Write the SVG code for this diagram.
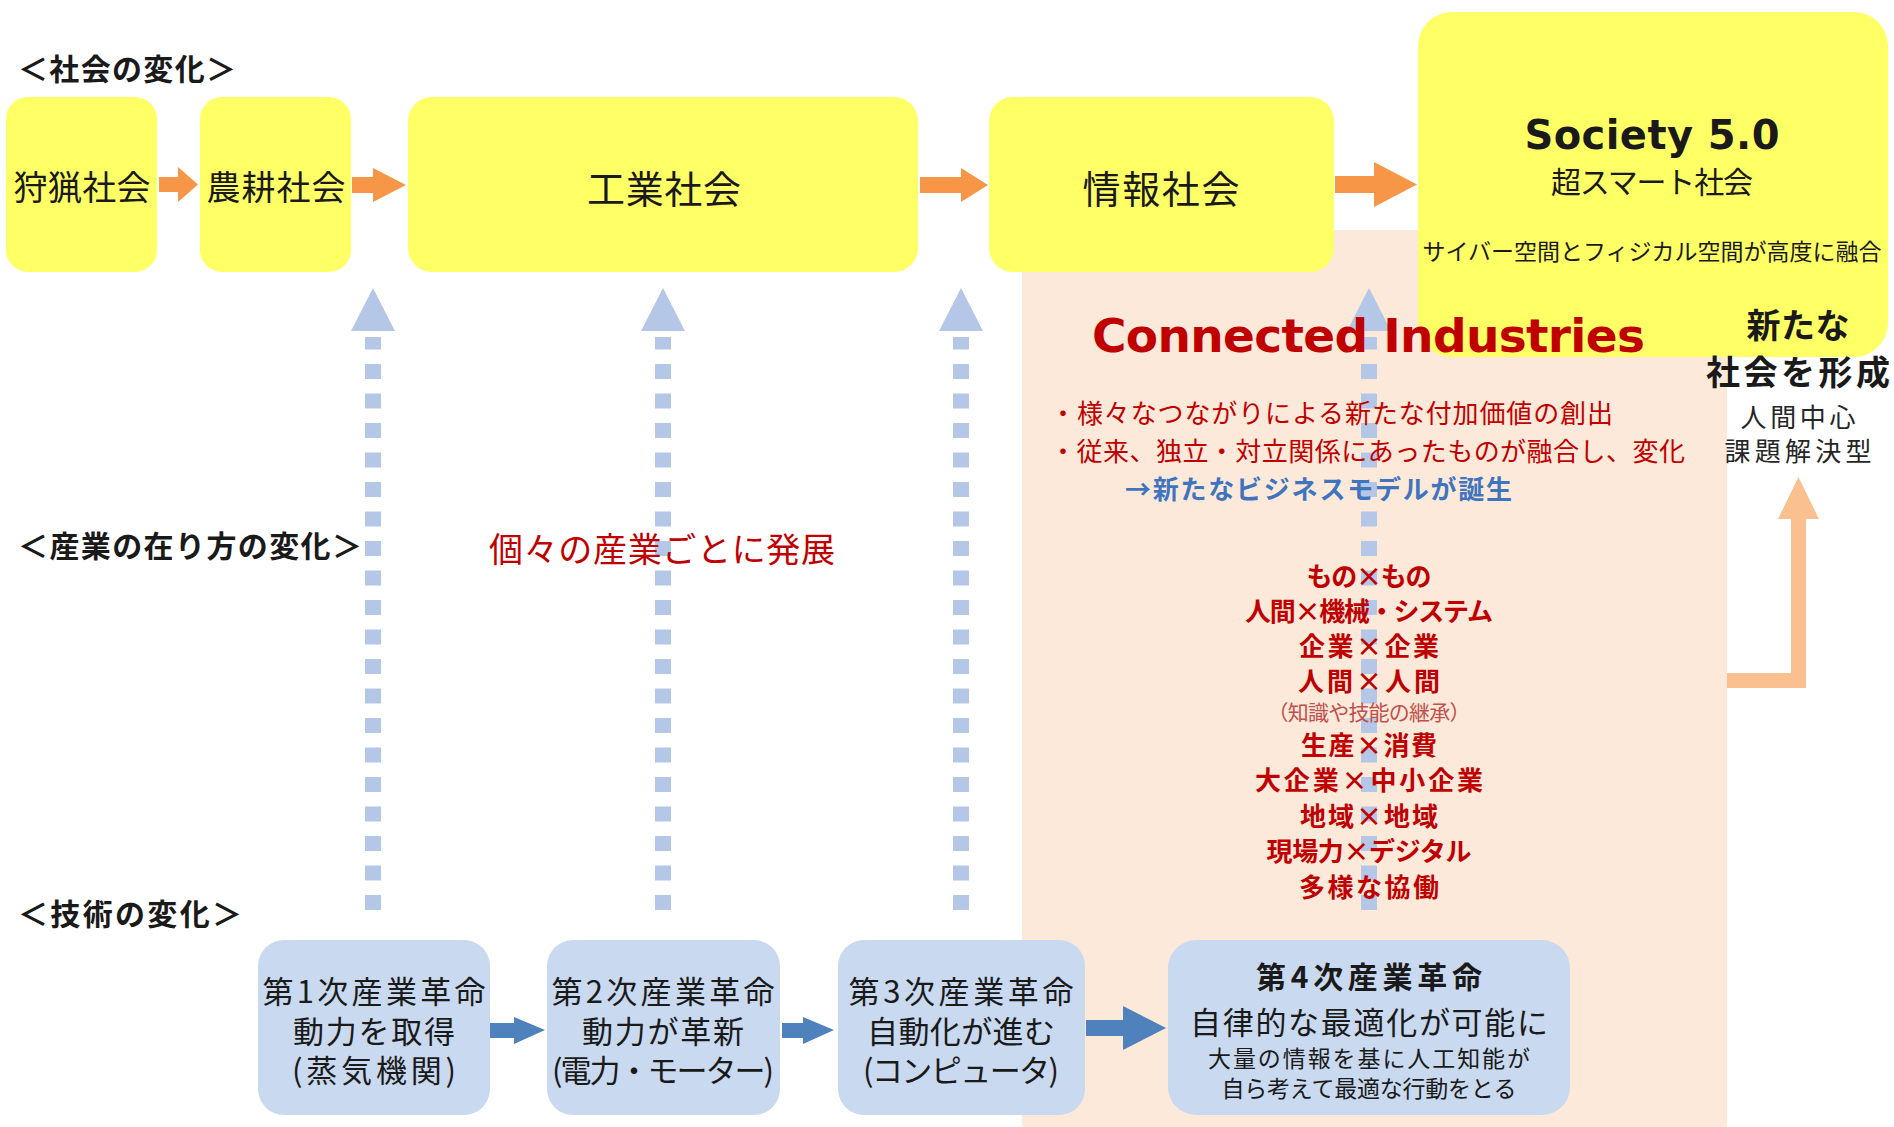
<svg xmlns="http://www.w3.org/2000/svg" width="1894" height="1127" viewBox="0 0 1894 1127">
<defs>
<style>
.jp{font-family:"Noto Sans CJK JP","Noto Sans",sans-serif;dominant-baseline:central}
.lat{font-family:"DejaVu Sans","Noto Sans",sans-serif;font-weight:bold}
.b{font-weight:bold}
.mid{text-anchor:middle}
.yel{fill:#FFFF66}
.peach{fill:#FDE9D9}
.tbox{fill:#C9D9EF}
.oarr{fill:#F79646}
.barr{fill:#4F81BD}
.dash{stroke:#B4C7E7;stroke-width:16;stroke-dasharray:15 14.5;fill:none}
.dhead{fill:#B4C7E7}
.red{fill:#C00000}
.blk{fill:#1A1A1A}
</style>
</defs>
<rect width="1894" height="1127" fill="#FFFFFF"/>

<g id="connected-industries-area">
<rect class="peach" x="1022" y="230" width="705" height="910" rx="18"/>
</g>

<g id="section-labels">
<text class="jp b blk" x="18" y="67" font-size="30" textLength="218">＜社会の変化＞</text>
<text class="jp b blk" x="18" y="544" font-size="30" textLength="344">＜産業の在り方の変化＞</text>
<text class="jp b blk" x="18" y="912" font-size="30" textLength="224">＜技術の変化＞</text>
</g>

<g id="connectors">
<line class="dash" x1="373" y1="910" x2="373" y2="337"/>
<polygon class="dhead" points="373,288 395,331 351,331"/>
<line class="dash" x1="663" y1="910" x2="663" y2="337"/>
<polygon class="dhead" points="663,288 685,331 641,331"/>
<line class="dash" x1="961" y1="910" x2="961" y2="337"/>
<polygon class="dhead" points="961,288 983,331 939,331"/>
<line class="dash" x1="1369" y1="910" x2="1369" y2="337"/>
<polygon class="dhead" points="1369,288 1391,331 1347,331"/>
<polygon class="oarr" points="159,177 178,177 178,167 198,184.5 178,202 178,192 159,192"/>
<polygon class="oarr" points="352,177 373,177 373,168 406,185 373,202 373,193 352,193"/>
<polygon class="oarr" points="920,177 961,177 961,168 988,185 961,202 961,193 920,193"/>
<polygon class="oarr" points="1335,176 1374,176 1374,162 1417,184.5 1374,207 1374,193 1335,193"/>
<polygon class="barr" points="490,1023 514,1023 514,1017 545,1030 514,1044 514,1038 490,1038"/>
<polygon class="barr" points="782,1023 803,1023 803,1017 834,1030 803,1044 803,1038 782,1038"/>
<polygon class="barr" points="1086,1020 1123,1020 1123,1006 1166,1028 1123,1050 1123,1036 1086,1036"/>
<polygon fill="#FAC08F" points="1727,673 1791,673 1791,519 1778,519 1798.5,477 1819,519 1806,519 1806,688 1727,688"/>
</g>

<g id="node-hunting">
<rect class="yel" x="6" y="97" width="151" height="175" rx="22"/>
<text class="jp mid blk" x="82" y="185" font-size="34" textLength="137">狩猟社会</text>
</g>
<g id="node-agrarian">
<rect class="yel" x="200" y="97" width="151" height="175" rx="22"/>
<text class="jp mid blk" x="276" y="185" font-size="34" textLength="139">農耕社会</text>
</g>
<g id="node-industrial">
<rect class="yel" x="408" y="97" width="510" height="175" rx="24"/>
<text class="jp mid blk" x="664" y="186" font-size="38" textLength="154">工業社会</text>
</g>
<g id="node-information">
<rect class="yel" x="989" y="97" width="345" height="175" rx="24"/>
<text class="jp mid blk" x="1161" y="186" font-size="38" textLength="157">情報社会</text>
</g>
<g id="node-society50">
<rect class="yel" x="1418" y="12" width="470" height="345" rx="34"/>
<text class="lat mid blk" x="1652" y="149" font-size="40" textLength="255">Society 5.0</text>
<text class="jp mid blk" x="1652" y="180" font-size="30" textLength="202">超スマート社会</text>
<text class="jp mid blk" x="1652" y="250" font-size="23" textLength="459">サイバー空間とフィジカル空間が高度に融合</text>
</g>

<g id="label-individual">
<text class="jp mid red" x="662" y="547" font-size="34" textLength="346">個々の産業ごとに発展</text>
</g>

<g id="node-connected-industries">
<text class="lat red" x="1092" y="352" font-size="47" textLength="553">Connected Industries</text>
<text class="jp red" x="1050" y="411" font-size="26" textLength="563">・様々なつながりによる新たな付加価値の創出</text>
<text class="jp red" x="1050" y="449" font-size="26" textLength="635">・従来、独立・対立関係にあったものが融合し、変化</text>
<text class="jp b" x="1125" y="487" font-size="26" textLength="387" fill="#3F74BE">→新たなビジネスモデルが誕生</text>
<g class="jp b red mid" font-size="26">
<text x="1369" y="574" textLength="125">もの×もの</text>
<text x="1369" y="609" textLength="248">人間×機械・システム</text>
<text x="1369" y="644" textLength="140">企業×企業</text>
<text x="1369" y="679" textLength="142">人間×人間</text>
<text x="1369" y="743" textLength="136">生産×消費</text>
<text x="1369" y="778" textLength="228">大企業×中小企業</text>
<text x="1369" y="814" textLength="138">地域×地域</text>
<text x="1369" y="849" textLength="205">現場力×デジタル</text>
<text x="1369" y="885" textLength="140">多様な協働</text>
</g>
<text class="jp mid" x="1369" y="711" font-size="21" textLength="203" fill="#C0504D">（知識や技能の継承）</text>
</g>

<g id="label-new-society">
<text class="jp mid b blk" x="1798" y="323" font-size="34" textLength="103">新たな</text>
<text class="jp mid b blk" x="1798" y="370" font-size="34" textLength="184">社会を形成</text>
<text class="jp mid" x="1798" y="415" font-size="26" textLength="115" fill="#262626">人間中心</text>
<text class="jp mid" x="1798" y="449" font-size="26" textLength="147" fill="#262626">課題解決型</text>
</g>

<g id="node-ir1">
<rect class="tbox" x="258" y="940" width="232" height="175" rx="26"/>
<text class="jp mid blk" x="374" y="989" font-size="31" textLength="223">第1次産業革命</text>
<text class="jp mid blk" x="374" y="1029" font-size="31" textLength="162">動力を取得</text>
<text class="jp mid blk" x="374" y="1068" font-size="31" textLength="164">(蒸気機関)</text>
</g>
<g id="node-ir2">
<rect class="tbox" x="547" y="940" width="233" height="175" rx="26"/>
<text class="jp mid blk" x="663" y="989" font-size="31" textLength="223">第2次産業革命</text>
<text class="jp mid blk" x="663" y="1029" font-size="31" textLength="162">動力が革新</text>
<text class="jp mid blk" x="663" y="1068" font-size="31" textLength="222">(電力・モーター)</text>
</g>
<g id="node-ir3">
<rect class="tbox" x="838" y="940" width="247" height="175" rx="26"/>
<text class="jp mid blk" x="961" y="989" font-size="31" textLength="225">第3次産業革命</text>
<text class="jp mid blk" x="961" y="1029" font-size="31" textLength="188">自動化が進む</text>
<text class="jp mid blk" x="961" y="1068" font-size="31" textLength="196">(コンピュータ)</text>
</g>
<g id="node-ir4">
<rect class="tbox" x="1168" y="940" width="402" height="175" rx="28"/>
<text class="jp mid b blk" x="1369" y="975" font-size="30" textLength="226">第4次産業革命</text>
<text class="jp mid blk" x="1369" y="1020" font-size="31" textLength="358">自律的な最適化が可能に</text>
<text class="jp mid blk" x="1369" y="1057" font-size="23" textLength="322">大量の情報を基に人工知能が</text>
<text class="jp mid blk" x="1369" y="1087" font-size="23" textLength="295">自ら考えて最適な行動をとる</text>
</g>
</svg>
